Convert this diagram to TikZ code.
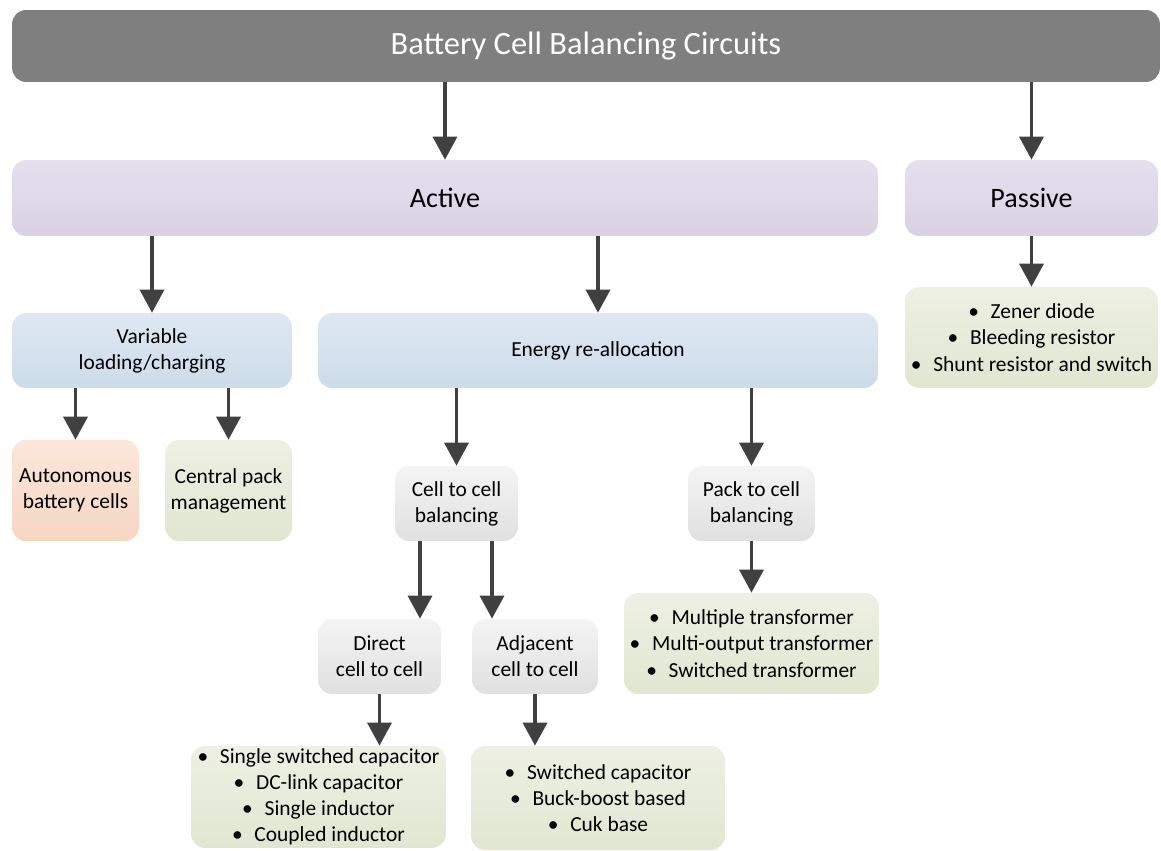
\documentclass[tikz,border=0pt]{standalone}
\usepackage{fontspec}
\setmainfont{Carlito}
\usetikzlibrary{arrows.meta}

\definecolor{headgray}{HTML}{7F7F7F}
\definecolor{arrowgray}{HTML}{404040}
\definecolor{lilacA}{HTML}{E4E0EE}
\definecolor{lilacB}{HTML}{D9D1E3}
\definecolor{blueA}{HTML}{DFE8F2}
\definecolor{blueB}{HTML}{CCDCEA}
\definecolor{greyA}{HTML}{F4F4F4}
\definecolor{greyB}{HTML}{E0E0E0}
\definecolor{greenA}{HTML}{EDF0E3}
\definecolor{greenB}{HTML}{E1E6D1}
\definecolor{peachA}{HTML}{FBE7DA}
\definecolor{peachB}{HTML}{F6D6C3}

\newcommand{\itm}{\textbullet\hspace{0.55em}}

\tikzset{
  box/.style={rounded corners=0.28cm, inner sep=0pt, align=center,
    font=\fontsize{12.2}{14.9}\selectfont},
  headbox/.style={box, fill=headgray, text=white, font=\fontsize{18.5}{22}\selectfont},
  kindbox/.style={box, top color=lilacA, bottom color=lilacB, font=\fontsize{16}{19}\selectfont},
  groupbox/.style={box, top color=blueA, bottom color=blueB},
  waybox/.style={box, top color=greyA, bottom color=greyB},
  listbox/.style={box, top color=greenA, bottom color=greenB},
  cellbox/.style={box, top color=peachA, bottom color=peachB},
  arr/.style={draw=arrowgray, line width=2pt, -{Triangle[width=0.48cm,length=0.46cm]}},
}

\begin{document}
\begin{tikzpicture}[x=0.02cm, y=-0.02cm]
  \useasboundingbox (0,0) rectangle (1161,851);

  % levels
  \node[headbox, minimum width=22.96cm, minimum height=1.44cm] (bcb) at (586,46) {Battery Cell Balancing Circuits};
  \node[kindbox, minimum width=17.32cm, minimum height=1.52cm] (active) at (445,198) {Active};
  \node[kindbox, minimum width=5.06cm, minimum height=1.52cm] (passive) at (1031.5,198) {Passive};

  \node[groupbox, minimum width=5.6cm, minimum height=1.5cm] (vlc) at (152,350.5) {Variable\\loading/charging};
  \node[groupbox, minimum width=11.2cm, minimum height=1.5cm] (era) at (598,350.5) {Energy re-allocation};
  \node[listbox, minimum width=5.06cm, minimum height=2.02cm] (plist) at (1031.5,337.5)
    {\itm Zener diode\\ \itm Bleeding resistor\\ \itm Shunt resistor and switch};

  \node[cellbox, minimum width=2.54cm, minimum height=2.02cm] (abc) at (75.5,490.5) {Autonomous\\battery cells};
  \node[listbox, minimum width=2.54cm, minimum height=2.02cm] (cpm) at (228.5,490.5) {Central pack\\management};

  \node[waybox, minimum width=2.46cm, minimum height=1.5cm] (c2c) at (456.5,503.5) {Cell to cell\\balancing};
  \node[waybox, minimum width=2.54cm, minimum height=1.5cm] (p2c) at (751.5,503.5) {Pack to cell\\balancing};
  \node[listbox, minimum width=5.1cm, minimum height=2.02cm] (tlist) at (751.5,643.5)
    {\itm Multiple transformer\\ \itm Multi-output transformer\\ \itm Switched transformer};

  \node[waybox, minimum width=2.46cm, minimum height=1.5cm] (dcc) at (379.5,656.5) {Direct\\cell to cell};
  \node[waybox, minimum width=2.52cm, minimum height=1.5cm] (acc) at (535,656.5) {Adjacent\\cell to cell};

  \node[listbox, minimum width=5.1cm, minimum height=2.04cm] (dlist) at (318.5,797)
    {\itm Single switched capacitor\\ \itm DC-link capacitor\\ \itm Single inductor\\ \itm Coupled inductor};
  \node[listbox, minimum width=5.08cm, minimum height=2.08cm] (alist) at (598,798)
    {\itm Switched capacitor\\ \itm Buck-boost based\\ \itm Cuk base};

  % arrows
  \path[every edge/.append style={arr}]
    (bcb.south -| active.north) edge (active.north)
    (bcb.south -| passive.north) edge (passive.north)
    (active.south -| vlc.north) edge (vlc.north)
    (active.south -| era.north) edge (era.north)
    (passive.south) edge (plist.north)
    (vlc.south -| abc.north) edge (abc.north)
    (vlc.south -| cpm.north) edge (cpm.north)
    (era.south -| c2c.north) edge (c2c.north)
    (era.south -| p2c.north) edge (p2c.north)
    (p2c.south) edge (tlist.north);
  \draw[arr] (dcc.south) -- (dcc.south |- dlist.north);
  \draw[arr] (acc.south) -- (acc.south |- alist.north);
  \draw[arr] ([xshift=-0.73cm]c2c.south) -- ([xshift=-0.73cm]c2c.south |- dcc.north);
  \draw[arr] ([xshift=0.71cm]c2c.south) -- ([xshift=0.71cm]c2c.south |- acc.north);
\end{tikzpicture}
\end{document}
